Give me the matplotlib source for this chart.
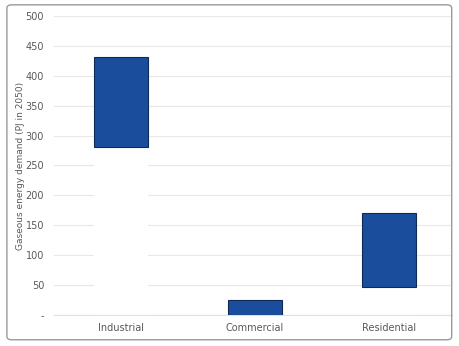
import matplotlib.pyplot as plt
from matplotlib.patches import FancyBboxPatch

# Gaseous energy demand range (PJ in 2050), floating bars
sectors = ["Industrial", "Commercial", "Residential"]
low = [281, 0, 47]
high = [432, 25, 170]
yticks = [0, 50, 100, 150, 200, 250, 300, 350, 400, 450, 500]
ytick_labels = ["-"] + [str(v) for v in yticks[1:]]

fig = plt.figure(figsize=(4.6, 3.46), dpi=100)
ax = fig.add_axes([0.117, 0.0896, 0.866, 0.8642])

x = range(len(sectors))
span = [h - l for h, l in zip(high, low)]

# white base bars hide the gridlines below each range, like the Excel original
ax.bar(x, low, width=0.4, color="white", zorder=2)
ax.bar(x, span, bottom=low, width=0.4, color="#1a4e9c",
       edgecolor="#0e2a55", linewidth=0.8, zorder=3)

ax.set_xlim(-0.5, 2.47)
ax.set_ylim(0, 500)
ax.set_yticks(yticks)
ax.set_yticklabels(ytick_labels)
ax.set_xticks(list(x))
ax.set_xticklabels(sectors)

ax.grid(True, axis="y", color="#e8e8e8", linewidth=0.8, zorder=0)
ax.set_axisbelow(True)
for s in ["top", "right", "left"]:
    ax.spines[s].set_visible(False)
ax.spines["bottom"].set_color("#e0e0e0")
ax.spines["bottom"].set_linewidth(0.8)

ax.tick_params(axis="y", length=0, pad=7, labelsize=7, labelcolor="#595959")
ax.tick_params(axis="x", length=0, pad=6, labelsize=7, labelcolor="#595959")

ax.set_ylabel("Gaseous energy demand (PJ in 2050)", fontsize=6.5,
              color="#595959")
ax.yaxis.set_label_coords(-0.073, 0.5)

# rounded frame round the chart area
frame = FancyBboxPatch((0.015, 0.018), 0.967, 0.968,
                       boxstyle="round,pad=0,rounding_size=0.01",
                       transform=fig.transFigure, facecolor="none",
                       edgecolor="#9a9a9a", linewidth=1.0)
fig.patches.append(frame)

fig.savefig("out.png", dpi=100)
